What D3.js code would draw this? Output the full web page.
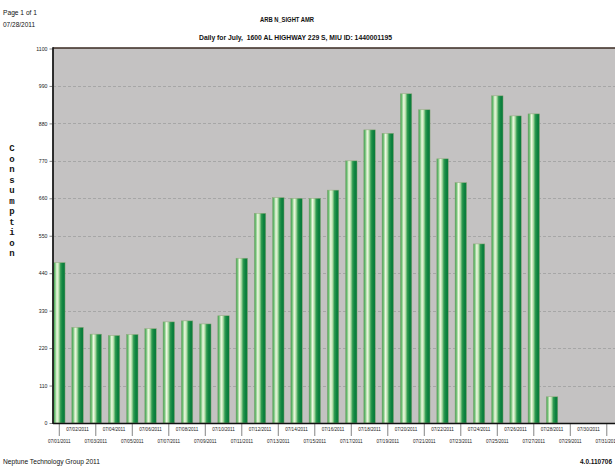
<!DOCTYPE html>
<html>
<head>
<meta charset="utf-8">
<script src="https://cdn.jsdelivr.net/npm/d3@7"></script>
<style>
  body { margin: 0; background: #fff; }
  svg { display: block; font-family: Arial, "Liberation Sans", sans-serif; }
</style>
</head>
<body>
<svg id="chart" width="615" height="466"></svg>
<script>
// data
var days = d3.range(1, 32).map(function(d) { return '07/' + (d < 10 ? '0' + d : d) + '/2011' })
var usage = [471, 281, 261, 257, 260, 277, 297, 300, 291, 315,
             484, 616, 662, 660, 660, 684, 770, 861, 851, 967,
             920, 776, 706, 526, 961, 902, 908, 77, 0, 0, 0]
var yTicks = [0, 110, 220, 330, 440, 550, 660, 770, 880, 990, 1100]

// layout (window.top is reserved, so plot* names)
var plotLeft = 53, plotTop = 48, plotBottom = 423
var step = 18.25

var svg = d3.select('#chart')

var x = d3.scaleBand()
  .domain(days)
  .range([plotLeft, plotLeft + step * (31 - 0.37 + 0.06)])
  .paddingInner(0.37)
  .paddingOuter(0.03)

var y = d3.scaleLinear().domain([0, 1100]).range([plotBottom, plotTop + 0.5])

// bar shading
var grad = svg.append('defs').append('linearGradient').attr('id', 'barGrad')
var stops = [[0, '#3f9d55'], [0.12, '#6fbf72'], [0.3, '#eef8e2'], [0.45, '#b5dfaa'], [0.62, '#2f9a50'], [0.8, '#0d823f'], [1, '#0a7a3a']]
stops.forEach(function(s) {
  grad.append('stop').attr('offset', s[0]).attr('stop-color', s[1])
})

// plot background (runs past the right edge, like the scan)
svg.append('rect')
  .attr('x', plotLeft).attr('y', plotTop)
  .attr('width', 615 - plotLeft + 10).attr('height', plotBottom - plotTop)
  .attr('fill', '#c4c2c2')

// grid
svg.append('g')
  .selectAll('line')
  .data(yTicks.slice(1, -1))
  .join('line')
  .attr('x1', plotLeft).attr('x2', 620)
  .attr('y1', function(d) { return Math.round(y(d)) + 0.5 })
  .attr('y2', function(d) { return Math.round(y(d)) + 0.5 })
  .attr('stroke', '#9a9a9a')
  .attr('stroke-width', 0.7)
  .attr('stroke-dasharray', '3,2')

// bars
svg.append('g')
  .selectAll('rect')
  .data(usage)
  .join('rect')
  .attr('x', function(d, i) { return x(days[i]) })
  .attr('y', function(d) { return y(d) })
  .attr('width', x.bandwidth())
  .attr('height', function(d) { return plotBottom - y(d) })
  .attr('fill', 'url(#barGrad)')
  .attr('stroke', function(d) { return d > 0 ? '#8fa87a' : 'none' })
  .attr('stroke-width', 0.5)

// frame lines
svg.append('line').attr('x1', plotLeft).attr('x2', 620).attr('y1', plotTop).attr('y2', plotTop)
  .attr('stroke', '#3a2a22').attr('stroke-width', 1.6)
svg.append('line').attr('x1', plotLeft).attr('x2', plotLeft).attr('y1', plotTop - 0.8).attr('y2', plotBottom + 1)
  .attr('stroke', '#1a1a1a').attr('stroke-width', 1.8)

// y axis
var yAxis = svg.append('g')
  .attr('transform', 'translate(' + (plotLeft - 0.5) + ',0)')
  .call(d3.axisLeft(y).tickValues(yTicks).tickFormat(d3.format('d')).tickSize(3).tickPadding(2))
yAxis.select('.domain').remove()
yAxis.selectAll('line').attr('stroke', '#333').attr('stroke-width', 0.6)
yAxis.selectAll('text').attr('font-size', 5.2).attr('fill', '#222')

// x axis: odd days on the lower row, even days on the upper row
var xAxis = svg.append('g').attr('transform', 'translate(0,' + plotBottom + ')')
xAxis.append('line').attr('x1', plotLeft).attr('x2', 620).attr('y1', 0.5).attr('y2', 0.5)
  .attr('stroke', '#111').attr('stroke-width', 1.6)
var ticks = xAxis.selectAll('g.tick')
  .data(days)
  .join('g')
  .attr('class', 'tick')
  .attr('transform', function(d) { return 'translate(' + (x(d) + x.bandwidth() / 2) + ',0)' })
ticks.filter(function(d, i) { return i % 2 === 0 })
  .append('line').attr('y1', 1).attr('y2', 13)
  .attr('stroke', '#333').attr('stroke-width', 0.6)
ticks.append('text')
  .attr('y', function(d, i) { return i % 2 === 0 ? 19.5 : 8 })
  .attr('text-anchor', 'middle')
  .attr('font-size', 4.6)
  .attr('fill', '#222')
  .text(function(d) { return d })

// y title, one letter per line
var yTitle = 'Consumption'.split('')
svg.append('g')
  .selectAll('text')
  .data(yTitle)
  .join('text')
  .attr('x', 12)
  .attr('y', function(d, i) { return 151 + i * 10.5 })
  .attr('text-anchor', 'middle')
  .attr('font-family', '"Liberation Mono", "DejaVu Sans Mono", monospace')
  .attr('font-weight', 'bold')
  .attr('font-size', 9)
  .attr('fill', '#111')
  .text(function(d) { return d })

// header and footer text
function label(str, px, py, size, weight, anchor, len) {
  var t = svg.append('text')
    .attr('x', px).attr('y', py)
    .attr('font-size', size)
    .attr('font-weight', weight)
    .attr('text-anchor', anchor)
    .attr('fill', '#111')
    .style('white-space', 'pre')
    .text(str)
  if (len) t.attr('textLength', len).attr('lengthAdjust', 'spacingAndGlyphs')
  return t
}
label('Page 1 of 1', 3, 15, 7, 'normal', 'start', 34)
label('07/28/2011', 3, 26.5, 7, 'normal', 'start', 32)
label('ARB N_SIGHT AMR', 287, 22, 7, 'bold', 'middle', 54)
label('Daily for July,  1600 AL HIGHWAY 229 S, MIU ID: 1440001195', 295.5, 39.5, 7, 'bold', 'middle', 193)
label('Neptune Technology Group 2011', 3, 464, 7, 'normal', 'start', 97)
label('4.0.110706', 580, 464, 7, 'bold', 'start', 32)
</script>
</body>
</html>
